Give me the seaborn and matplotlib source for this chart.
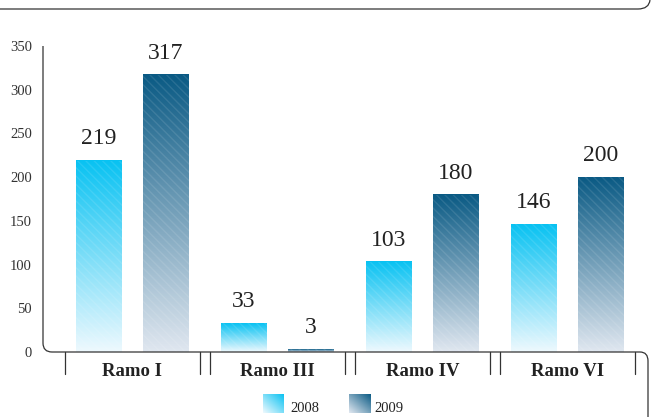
import numpy as np
import pandas as pd
import matplotlib
matplotlib.use("Agg")
import matplotlib.pyplot as plt
import seaborn as sns
from matplotlib.path import Path
from matplotlib.patches import PathPatch
import matplotlib.colors as mcolors

# ---- data ----
categories = ["Ramo I", "Ramo III", "Ramo IV", "Ramo VI"]
years = ["2008", "2009"]
values_2008 = [219, 33, 103, 146]
values_2009 = [317, 3, 180, 200]
yticks = [0, 50, 100, 150, 200, 250, 300, 350]

df = pd.DataFrame({
    "ramo": categories * 2,
    "year": [years[0]] * 4 + [years[1]] * 4,
    "value": values_2008 + values_2009,
})

grad_colors = {
    "2008": ("#08c2f2", "#eef9fe"),
    "2009": ("#0a5a84", "#e0e7f0"),
}

sns.set_theme(style="white")
plt.rcParams["font.family"] = ["Liberation Serif", "DejaVu Serif"]

W, H = 652, 417
fig = plt.figure(figsize=(W / 100, H / 100), dpi=100)

def fx(px):
    return px / W

def fy(py):
    return (H - py) / H

ax_left, ax_right, ax_top, ax_bot = 43, 648, 46, 352
ax = fig.add_axes([fx(ax_left), fy(ax_bot), fx(ax_right) - fx(ax_left), fy(ax_top) - fy(ax_bot)])

sns.barplot(data=df, x="ramo", y="value", hue="year", order=categories,
            hue_order=years, palette=["#08c2f2", "#0a5a84"], width=0.924,
            gap=0.314, legend=False, ax=ax, saturation=1)

xlim = (-0.617, 3.555)
ylim = (0, 350)

def gradient(top, bottom, n=256):
    t = np.linspace(0, 1, n)[:, None]
    c1 = np.array(mcolors.to_rgb(top))
    c2 = np.array(mcolors.to_rgb(bottom))
    return (c1 * (1 - t) + c2 * t)[:, None, :]

for i, container in enumerate(ax.containers):
    top, bottom = grad_colors[years[i]]
    img = gradient(top, bottom)
    for bar in container:
        x0, y0 = bar.get_x(), bar.get_y()
        w, h = bar.get_width(), bar.get_height()
        ax.imshow(img, extent=[x0, x0 + w, y0, y0 + h], origin="upper",
                  aspect="auto", zorder=1, interpolation="bilinear")
        bar.set_facecolor("none")
        bar.set_edgecolor((1, 1, 1, 0.10))
        bar.set_linewidth(0)
        bar.set_hatch("\\\\\\\\")
        bar.set_zorder(2)
    ax.bar_label(container, labels=[str(int(v)) for v in container.datavalues],
                 padding=8, fontsize=17, color="#222222")

ax.set_xlim(*xlim)
ax.set_ylim(*ylim)
ax.set_yticks(yticks)
ax.set_yticklabels([str(v) for v in yticks], fontsize=10.5, color="#333333")
ax.tick_params(axis="y", length=0, pad=8)
ax.set_xticks(range(len(categories)))
ax.set_xticklabels(categories, fontsize=13.5, fontweight="bold", color="#222222")
ax.tick_params(axis="x", length=0, pad=8)
ax.set_xlabel("")
ax.set_ylabel("")
for s in ax.spines.values():
    s.set_visible(False)
ax.patch.set_alpha(0)

# group separator ticks
py_per_unit = (ax_bot - ax_top) / 350.0
tick_len = 22 / py_per_unit
for i in range(len(categories)):
    for dx in (-0.466, 0.466):
        ax.plot([i + dx, i + dx], [0, -tick_len], color="#333333", lw=0.9,
                clip_on=False, zorder=3)

line_kw = dict(facecolor="none", edgecolor="#333333", lw=0.9,
               transform=fig.transFigure)

# axis frame with rounded corners
r = 9
verts = [(fx(43), fy(46)), (fx(43), fy(352 - r)),
         (fx(43), fy(352)), (fx(43 + r), fy(352)),
         (fx(640), fy(352)),
         (fx(648), fy(352)), (fx(648), fy(352 + r)),
         (fx(648), fy(417))]
codes = [Path.MOVETO, Path.LINETO, Path.CURVE3, Path.CURVE3, Path.LINETO,
         Path.CURVE3, Path.CURVE3, Path.LINETO]
fig.patches.append(PathPatch(Path(verts, codes), **line_kw))

# top decorative line
verts = [(fx(0), fy(9)), (fx(638), fy(9)), (fx(649), fy(9)), (fx(650), fy(0))]
codes = [Path.MOVETO, Path.LINETO, Path.CURVE3, Path.CURVE3]
fig.patches.append(PathPatch(Path(verts, codes), **line_kw))

# legend with gradient swatches
leg_items = [("2008", 263, 290), ("2009", 349, 374)]
for yr, sx, tx in leg_items:
    sax = fig.add_axes([fx(sx), fy(413), fx(sx + 21) - fx(sx), fy(394) - fy(413)])
    top, bottom = grad_colors[yr]
    n = 64
    yy, xx = np.mgrid[0:n, 0:n]
    t = np.clip((yy + (n - xx)) / (2 * n - 2), 0, 1)[..., None]
    c1 = np.array(mcolors.to_rgb(top))
    c2 = np.array(mcolors.to_rgb(bottom))
    sax.imshow(c1 * (1 - t) + c2 * t, aspect="auto", interpolation="bilinear")
    sax.axis("off")
    fig.text(fx(tx), fy(412), yr, fontsize=10.5, color="#222222",
             ha="left", va="baseline")

fig.savefig("out.png", dpi=100)
